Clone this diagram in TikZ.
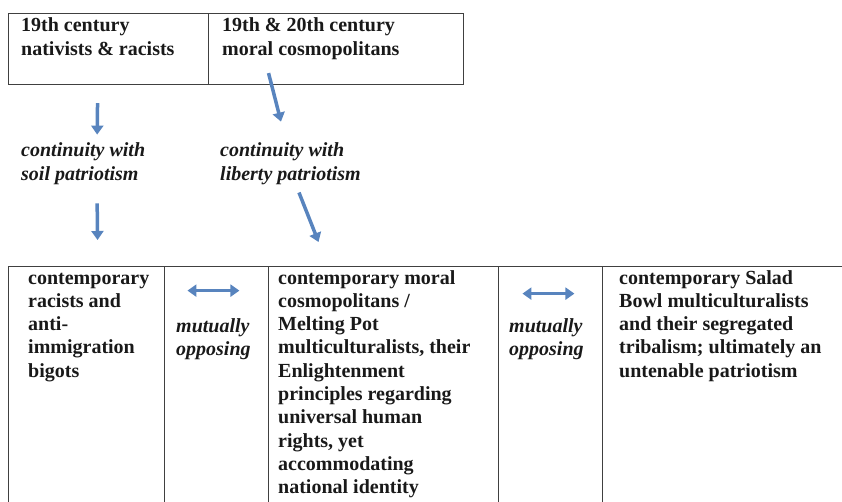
\documentclass[tikz,border=0pt]{standalone}
\usepackage{fontspec}
\setmainfont{Liberation Serif}
\usetikzlibrary{positioning}
\usetikzlibrary{arrows.meta}
\definecolor{arrowblue}{RGB}{88,132,190}

\begin{document}
\begin{tikzpicture}[x=1pt,y=-1pt,every node/.style={inner sep=0pt}]
	
	\tikzstyle{cell}=[rectangle,draw=black!75,line width=1.1pt,anchor=north west]
	\tikzstyle{txt}=[anchor=base west,align=left,text=black!90,font=\fontsize{20}{23.3}\selectfont\bfseries]
	\tikzstyle{itxt}=[txt,font=\fontsize{20}{23.3}\selectfont\bfseries\itshape]
	\tikzstyle{flow}=[arrowblue,line width=3.5pt,-{Triangle[width=12pt,length=9pt]}]
	\tikzstyle{both}=[arrowblue,line width=3.5pt,{Triangle[width=12pt,length=9pt]}-{Triangle[width=12pt,length=9pt]}]
	
	\useasboundingbox (0,0) rectangle (842,502);
	
	% top table
	\node[cell,minimum width=200pt,minimum height=71pt] (natcell) at (8,13) {};
	\node[cell,minimum width=255pt,minimum height=71pt] (moralcell) at (208,13) {};
	% text nodes sit on the baseline of their last line
	\node[txt] (nat) at (21,55.3) {19th century\\nativists \& racists};
	\node[txt] (moral) at (222,55.3) {19th \& 20th century\\moral cosmopolitans};
	
	\node[itxt] (soil) at (21,180.3) {continuity with\\soil patriotism};
	\node[itxt] (liberty) at (220,180.3) {continuity with\\liberty patriotism};
	
	% bottom table, runs off the page
	\node[cell,minimum width=156pt,minimum height=250pt] (racistcell) at (8,266) {};
	\node[cell,minimum width=104pt,minimum height=250pt] (opp1cell) at (164,266) {};
	\node[cell,minimum width=230pt,minimum height=250pt] (meltcell) at (268,266) {};
	\node[cell,minimum width=104pt,minimum height=250pt] (opp2cell) at (498,266) {};
	\node[cell,minimum width=250pt,minimum height=250pt] (saladcell) at (602,266) {};
	
	\node[txt] (racist) at (28,377.2) {contemporary\\racists and\\anti-\\immigration\\bigots};
	\node[itxt] (opp1) at (176,355.3) {mutually\\opposing};
	\node[txt] (melt) at (278,493.7) {contemporary moral\\cosmopolitans /\\Melting Pot\\multiculturalists, their\\Enlightenment\\principles regarding\\universal human\\rights, yet\\accommodating\\national identity};
	\node[itxt] (opp2) at (509,355.3) {mutually\\opposing};
	\node[txt] (salad) at (619,377.2) {contemporary Salad\\Bowl multiculturalists\\and their segregated\\tribalism; ultimately an\\untenable patriotism};
	
	\draw[flow] ([xshift=-11pt,yshift=-18pt]natcell.south) -- ([xshift=14pt,yshift=8.3pt]soil.north);
	\draw[flow] ([xshift=14pt,yshift=-18.7pt]soil.south) -- ([xshift=11pt,yshift=26pt]racistcell.north);
	\draw[flow] ([xshift=-67.5pt,yshift=12pt]moralcell.south) -- ([xshift=-9.5pt,yshift=21.3pt]liberty.north);
	\draw[flow] ([xshift=8.5pt,yshift=-7.7pt]liberty.south) -- ([xshift=-65pt,yshift=24pt]meltcell.north);
	\draw[both] ([xshift=-26pt,yshift=27.3pt]opp1.north) -- ([xshift=26pt,yshift=27.3pt]opp1.north);
	\draw[both] ([xshift=-24pt,yshift=24.3pt]opp2.north) -- ([xshift=28pt,yshift=24.3pt]opp2.north);
	
\end{tikzpicture}
\end{document}
